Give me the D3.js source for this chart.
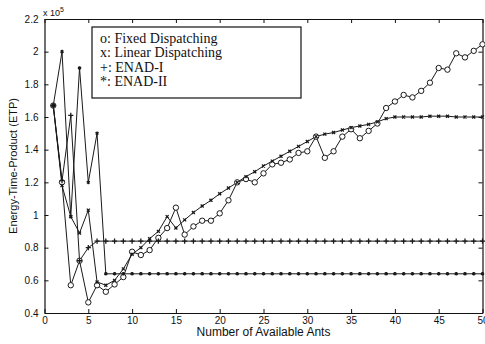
<!DOCTYPE html>
<html>
  <head>
    <meta charset="utf-8">
    <title></title>
    <style>
      body { margin: 0; background: #fff; }
      svg text { fill: #111; }
      .axis text { font: 10px "Liberation Sans", Arial, sans-serif; }
      .axis path, .axis line { stroke: #111; }
      .series { fill: none; stroke: #1a1a1a; stroke-width: 1; }
    </style>
    <script src="https://cdnjs.cloudflare.com/ajax/libs/d3/7.8.5/d3.min.js"></script>
  </head>
  <body>
    <div id="chart"></div>
    <script>
var ants = d3.range(1, 51);

var fixed = [1.67, 1.2, 0.57, 0.72, 0.465, 0.57, 0.53, 0.575, 0.62, 0.775,
  0.755, 0.785, 0.86, 0.92, 1.045, 0.88, 0.93, 0.965, 0.965, 1.01,
  1.09, 1.2, 1.22, 1.2, 1.255, 1.31, 1.32, 1.34, 1.38, 1.39,
  1.48, 1.35, 1.39, 1.48, 1.525, 1.47, 1.515, 1.56, 1.655, 1.695,
  1.735, 1.72, 1.76, 1.81, 1.9, 1.89, 1.99, 1.965, 2.005, 2.045];

var linear = [1.67, 1.18, 0.99, 0.89, 1.03, 0.59, 0.57, 0.6, 0.67, 0.76,
  0.8, 0.855, 0.9, 0.99, 0.92, 0.97, 1.015, 1.055, 1.09, 1.13,
  1.165, 1.2, 1.235, 1.265, 1.3, 1.33, 1.36, 1.39, 1.42, 1.45,
  1.48, 1.495, 1.505, 1.52, 1.535, 1.545, 1.555, 1.57, 1.59, 1.6,
  1.6, 1.6, 1.6, 1.605, 1.605, 1.605, 1.6, 1.6, 1.6, 1.6];

var enad1 = [1.67, 1.21, 1.61, 0.72, 0.8, 0.84, 0.84, 0.84, 0.84, 0.84,
  0.84, 0.84, 0.84, 0.84, 0.84, 0.84, 0.84, 0.84, 0.84, 0.84,
  0.84, 0.84, 0.84, 0.84, 0.84, 0.84, 0.84, 0.84, 0.84, 0.84,
  0.84, 0.84, 0.84, 0.84, 0.84, 0.84, 0.84, 0.84, 0.84, 0.84,
  0.84, 0.84, 0.84, 0.84, 0.84, 0.84, 0.84, 0.84, 0.84, 0.84];

var enad2 = [1.67, 2.0, 0.99, 1.9, 1.2, 1.5, 0.64, 0.64, 0.64, 0.64,
  0.64, 0.64, 0.64, 0.64, 0.64, 0.64, 0.64, 0.64, 0.64, 0.64,
  0.64, 0.64, 0.64, 0.64, 0.64, 0.64, 0.64, 0.64, 0.64, 0.64,
  0.64, 0.64, 0.64, 0.64, 0.64, 0.64, 0.64, 0.64, 0.64, 0.64,
  0.64, 0.64, 0.64, 0.64, 0.64, 0.64, 0.64, 0.64, 0.64, 0.64];

var xTicks = d3.range(0, 51, 5);
var yTicks = [0.4, 0.6, 0.8, 1, 1.2, 1.4, 1.6, 1.8, 2, 2.2];
var legendLabels = ["o: Fixed Dispatching", "x: Linear Dispatching", "+: ENAD-I", "*: ENAD-II"];

var width = 485, height = 344;
var plotLeft = 44.5, plotRight = 482.5, plotTop = 19, plotBottom = 313;

var svg = d3.select("#chart").append("svg").attr("width", width).attr("height", height);

var x = d3.scaleLinear().domain([0, 50]).range([plotLeft, plotRight]);
var y = d3.scaleLinear().domain([0.4, 2.2]).range([plotBottom, plotTop]);

// frame with inward ticks on all sides
svg.append("g").attr("class", "axis").attr("transform", "translate(0," + plotBottom + ")")
  .call(d3.axisBottom(x).tickValues(xTicks).tickSizeInner(-4).tickSizeOuter(0).tickPadding(4));
svg.append("g").attr("class", "axis").attr("transform", "translate(0," + plotTop + ")")
  .call(d3.axisTop(x).tickValues(xTicks).tickSizeInner(-4).tickSizeOuter(0).tickFormat(""));
svg.append("g").attr("class", "axis").attr("transform", "translate(" + plotLeft + ",0)")
  .call(d3.axisLeft(y).tickValues(yTicks).tickSizeInner(-4).tickSizeOuter(0).tickPadding(6).tickFormat(d3.format("~g")));
svg.append("g").attr("class", "axis").attr("transform", "translate(" + plotRight + ",0)")
  .call(d3.axisRight(y).tickValues(yTicks).tickSizeInner(-4).tickSizeOuter(0).tickFormat(""));
svg.selectAll(".axis .domain").attr("stroke-width", 1.2);

// x 10^5 multiplier
var mult = svg.append("text").attr("x", 43).attr("y", 16)
  .style("font", "9px 'Liberation Sans', Arial, sans-serif");
mult.append("tspan").text("x 10");
mult.append("tspan").attr("dy", -4).style("font-size", "7px").text("5");

var line = d3.line().x(function(d, i){ return x(ants[i]); }).y(function(d){ return y(d); });

var series = [
  { values: fixed, symbol: null },
  { values: linear, symbol: d3.symbolX, size: 7 },
  { values: enad1, symbol: d3.symbolPlus, size: 10 },
  { values: enad2, symbol: d3.symbolAsterisk, size: 9 }
];

series.forEach(function(s){
  svg.append("path").attr("class", "series").attr("d", line(s.values));
});

series.forEach(function(s){
  var g = svg.append("g");
  if (s.symbol === null) {
    g.selectAll("circle").data(s.values).enter().append("circle")
      .attr("cx", function(d, i){ return x(ants[i]); })
      .attr("cy", function(d){ return y(d); })
      .attr("r", 2.7)
      .attr("fill", "#fff").attr("stroke", "#1a1a1a").attr("stroke-width", 1);
  } else {
    g.selectAll("path").data(s.values).enter().append("path")
      .attr("d", d3.symbol(s.symbol, s.size))
      .attr("transform", function(d, i){ return "translate(" + x(ants[i]) + "," + y(d) + ")"; })
      .attr("fill", "none").attr("stroke", "#1a1a1a").attr("stroke-width", 1.3);
  }
});

// legend
var leg = svg.append("g");
leg.append("rect").attr("x", 92).attr("y", 27).attr("width", 209).attr("height", 71)
  .attr("fill", "#fff").attr("stroke", "#111").attr("stroke-width", 1.2);
leg.selectAll("text").data(legendLabels).enter().append("text")
  .attr("x", 100)
  .attr("y", function(d, i){ return 43 + i * 14.3; })
  .style("font", "14px 'Liberation Serif', 'Times New Roman', serif")
  .text(function(d){ return d; });

// axis titles
svg.append("text").attr("x", (plotLeft + plotRight) / 2).attr("y", 336)
  .attr("text-anchor", "middle")
  .style("font", "12px 'Liberation Sans', Arial, sans-serif")
  .text("Number of Available Ants");
svg.append("text").attr("transform", "translate(17," + ((plotTop + plotBottom) / 2) + ") rotate(-90)")
  .attr("text-anchor", "middle")
  .style("font", "11px 'Liberation Sans', Arial, sans-serif")
  .text("Energy-Time-Product (ETP)");
    </script>
  </body>
</html>
